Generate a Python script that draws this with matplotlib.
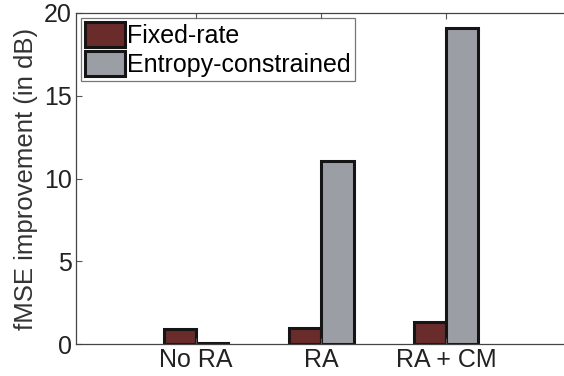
import numpy as np
import matplotlib.pyplot as plt

categories = ['No RA', 'RA', 'RA + CM']
fixed_rate = [0.9, 0.95, 1.3]
entropy_constrained = [0.05, 11.05, 19.1]
series_names = ['Fixed-rate', 'Entropy-constrained']

plt.rcParams['font.family'] = ['Liberation Sans', 'DejaVu Sans']

fig = plt.figure(figsize=(5.64, 3.76), dpi=100)
# axes run past the right edge of the figure, like the cropped original
ax = fig.add_axes([76/564, 32/376, 520/564, 331/376])

x = np.arange(1, len(categories) + 1)
w = 0.26
ax.bar(x - w/2, fixed_rate, w, color='#6a2b2b', edgecolor='#151515', linewidth=2.2,
       label=series_names[0])
ax.bar(x + w/2, entropy_constrained, w, color='#9c9ea6', edgecolor='#151515', linewidth=2.2,
       label=series_names[1])

ax.set_xlim(0.04, 4.2)
ax.set_ylim(0, 20)
ax.set_xticks(x)
ax.set_xticklabels(categories, fontsize=18, color='#222222')
ax.set_yticks([0, 5, 10, 15, 20])
ax.tick_params(axis='y', labelsize=18, labelcolor='#222222')
ax.tick_params(direction='in', top=True, right=False, length=4, color='#555555', pad=3)
ax.set_ylabel('fMSE improvement (in dB)', fontsize=18.5, color='#333333', labelpad=4)
for s in ax.spines.values():
    s.set_color('#444444')
    s.set_linewidth(0.9)
ax.spines['right'].set_visible(False)

leg = ax.legend(loc='upper left', fontsize=18, frameon=True, fancybox=False,
                borderpad=0.15, handlelength=1.6, handleheight=1.2, handletextpad=0.1,
                labelspacing=0.1, borderaxespad=0.2)
leg.get_frame().set_edgecolor('#555555')
leg.get_frame().set_linewidth(0.9)

fig.savefig('out.png', dpi=100)
